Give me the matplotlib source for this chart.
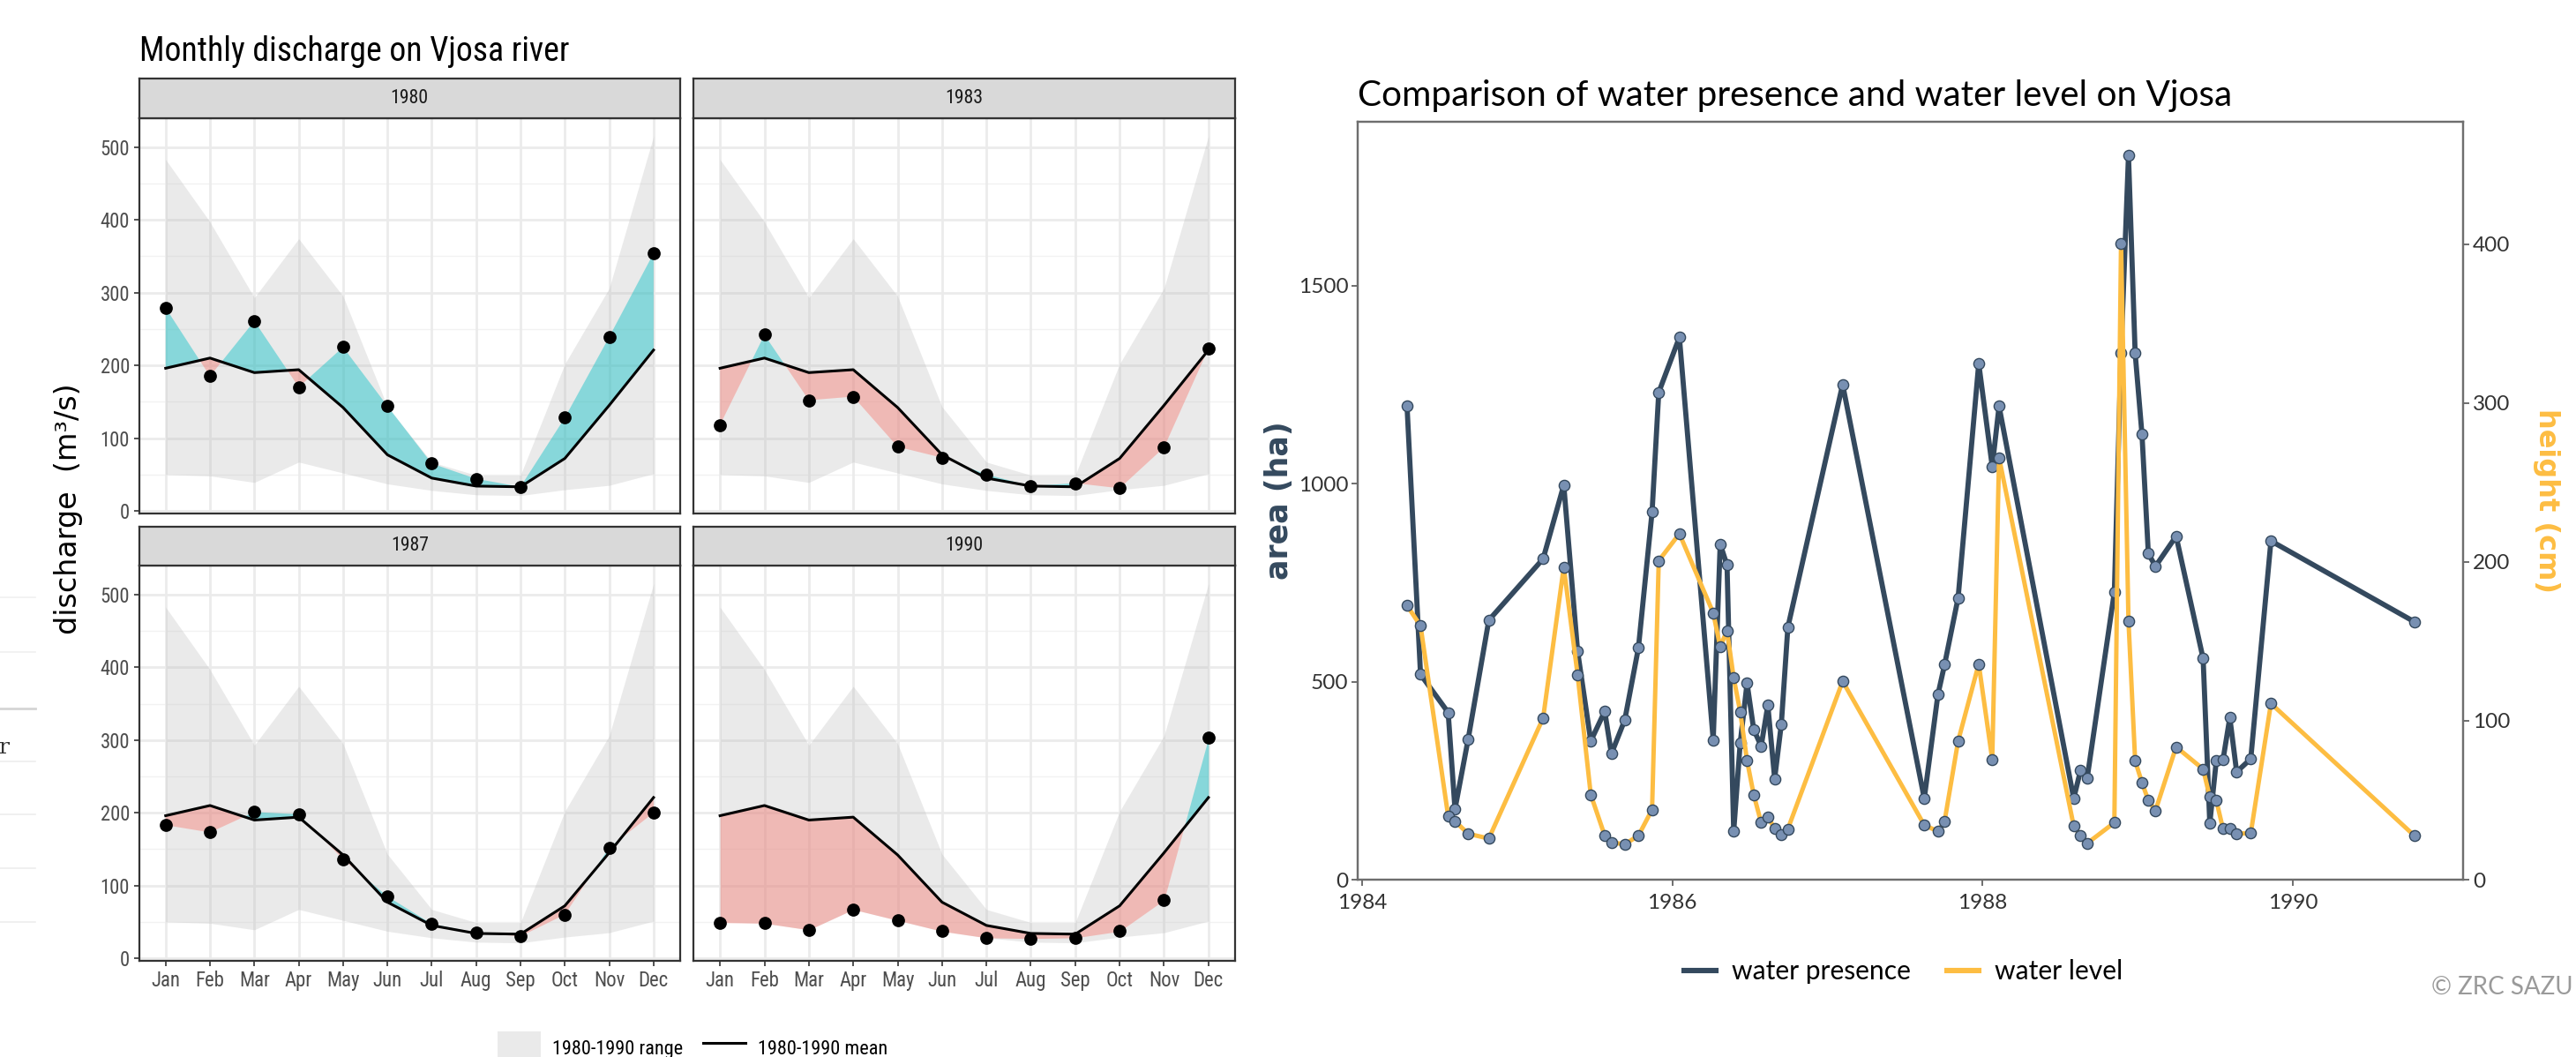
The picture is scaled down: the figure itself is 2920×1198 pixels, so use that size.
import numpy as np
import matplotlib
matplotlib.use('Agg')
import matplotlib.pyplot as plt
from matplotlib import font_manager
from matplotlib.lines import Line2D
from matplotlib.patches import Patch

# ---------------- data: monthly discharge (left) ----------------
months = ['Jan', 'Feb', 'Mar', 'Apr', 'May', 'Jun', 'Jul', 'Aug', 'Sep', 'Oct', 'Nov', 'Dec']
mean_1980_1990 = [196, 210, 190, 194, 142, 77, 45, 34, 33, 72, 145, 221]
range_low = [50, 48, 39, 67, 52, 37, 28, 22, 21, 29, 35, 51]
range_high = [483, 397, 293, 374, 295, 143, 67, 49, 49, 202, 306, 515]
facet_years = ['1980', '1983', '1987', '1990']
q_1980 = [279, 185, 261, 170, 225, 144, 65, 44, 33, 128, 239, 354]
q_1983 = [118, 242, 152, 157, 88, 73, 50, 34, 38, 31, 87, 223]
q_1987 = [183, 173, 201, 198, 136, 85, 47, 35, 30, 60, 152, 200]
q_1990 = [49, 48, 39, 67, 52, 37, 28, 27, 28, 37, 80, 303]

# ---------------- data: water presence / level (right) ----------------
dates = [1984.291, 1984.378, 1984.556, 1984.600, 1984.685, 1984.818,
         1985.168, 1985.301, 1985.390, 1985.475, 1985.565, 1985.608, 1985.694, 1985.782, 1985.870, 1985.913,
         1986.046, 1986.264, 1986.309, 1986.353, 1986.396, 1986.438, 1986.482, 1986.525, 1986.573, 1986.616,
         1986.660, 1986.703, 1986.745,
         1987.098, 1987.624, 1987.712, 1987.755, 1987.842, 1987.975,
         1988.062, 1988.106, 1988.587, 1988.631, 1988.674, 1988.849, 1988.892, 1988.940, 1988.983,
         1989.027, 1989.068, 1989.114, 1989.247, 1989.421, 1989.464, 1989.506, 1989.549, 1989.593, 1989.637,
         1989.728, 1989.858, 1990.782]
water_presence_ha = [1195, 518, 422, 178, 355, 655,
                     810, 996, 577, 350, 425, 318, 403, 585, 928, 1230,
                     1369, 353, 847, 794, 122, 345, 496, 379, 337, 440, 255, 393, 637,
                     1250, 205, 467, 543, 711, 1303,
                     1043, 1195, 205, 276, 257, 726, 1329, 1828, 1329,
                     1124, 823, 791, 867, 558, 142, 301, 302, 409, 272, 305, 855, 651]
water_level_cm = [172.6, 159.8, 40, 36.8, 28.9, 25.9,
                  101.8, 196.8, 129.1, 53.5, 27.7, 23.4, 22.3, 27.7, 44.1, 200.8,
                  217.8, 168, 146.7, 156.7, 127, 105.7, 75, 53.5, 35.9, 39.3, 32.3, 28.3, 31.9,
                  124.9, 34.4, 30.4, 36.8, 87.2, 135.8,
                  75.7, 265.7, 33.8, 27.7, 22.9, 35.9, 400.8, 162.8, 74.8,
                  61.1, 49.9, 43.5, 83.6, 69.6, 52, 49.9, 32, 32, 29, 29.2, 110.9, 27.7]
area_ticks = [0, 500, 1000, 1500]
height_ticks = [0, 100, 200, 300, 400]
year_ticks = [1984, 1986, 1988, 1990]

# ---------------- fonts ----------------
avail = {f.name for f in font_manager.fontManager.ttflist}
COND = next((f for f in ['Roboto Condensed', 'Liberation Sans Narrow', 'Open Sans Condensed']
             if f in avail), 'Roboto')
GEO = 'Lato' if 'Lato' in avail else 'DejaVu Sans'

W, H = 2920, 1198
fig = plt.figure(figsize=(W / 200, H / 200), dpi=200)
fig.patch.set_facecolor('white')


def px_axes(x0, y0, x1, y1, **kw):
    return fig.add_axes([x0 / W, 1 - y1 / H, (x1 - x0) / W, (y1 - y0) / H], **kw)


# ================= LEFT: faceted monthly discharge =================
obs = {'1980': q_1980, '1983': q_1983, '1987': q_1987, '1990': q_1990}
xs = np.arange(1, 13)
panels = {
    '1980': (157.6, 134, 771, 582, 89),
    '1983': (786, 134, 1400, 582, 89),
    '1987': (157.6, 641.4, 771, 1089, 596.6),
    '1990': (786, 641.4, 1400, 1089, 596.6),
}
GRID = '#EBEBEB'
for i, yr in enumerate(facet_years):
    x0, y0, x1, y1, sy = panels[yr]
    ax = px_axes(x0, y0, x1, y1)
    ax.set_xlim(0.4, 12.6)
    ax.set_ylim(-3.7, 539.7)
    for v in [50, 150, 250, 350, 450]:
        ax.axhline(v, color='#F2F2F2', lw=0.5, zorder=0)
    for v in range(0, 501, 100):
        ax.axhline(v, color=GRID, lw=1.0, zorder=0)
    for m in xs:
        ax.axvline(m, color=GRID, lw=1.0, zorder=0)
    ax.fill_between(xs, range_low, range_high, color='#BBBBBB', alpha=0.3, lw=0, zorder=1)
    o = np.array(obs[yr], float)
    mu = np.array(mean_1980_1990, float)
    ax.fill_between(xs, o, mu, where=o >= mu, interpolate=True, color='#00BFC4', alpha=0.42, lw=0, zorder=2)
    ax.fill_between(xs, o, mu, where=o <= mu, interpolate=True, color='#F8766D', alpha=0.42, lw=0, zorder=2)
    ax.plot(xs, mu, color='black', lw=1.1, zorder=3)
    ax.plot(xs, o, 'o', color='black', ms=4.3, zorder=4)
    for s in ax.spines.values():
        s.set_color('#333333')
        s.set_linewidth(0.8)
    ax.set_yticks(range(0, 501, 100))
    ax.set_xticks(xs)
    ax.tick_params(length=2.2, width=0.6, color='#333333', labelsize=8.2, labelcolor='#4D4D4D', pad=1.6)
    if i % 2 == 0:
        ax.set_yticklabels([str(v) for v in range(0, 501, 100)], fontfamily=COND)
    else:
        ax.tick_params(axis='y', left=False, labelleft=False)
    if i >= 2:
        ax.set_xticklabels(months, fontfamily=COND)
    else:
        ax.tick_params(axis='x', bottom=False, labelbottom=False)
    # strip
    st = px_axes(x0, sy, x1, y0)
    st.set_facecolor('#D9D9D9')
    st.set_xticks([])
    st.set_yticks([])
    for s in st.spines.values():
        s.set_color('#333333')
        s.set_linewidth(0.8)
    st.text(0.5, 0.5, yr, ha='center', va='center', fontsize=7.9, color='#1A1A1A',
            fontfamily=COND, transform=st.transAxes)

fig.text(158 / W, 1 - 69 / H, 'Monthly discharge on Vjosa river', fontsize=13.6,
         fontfamily=COND, color='black', ha='left', va='baseline')
fig.text(77 / W, 1 - 577 / H, 'discharge  (m³/s)', rotation=90, ha='center', va='center',
         fontsize=12, fontfamily='DejaVu Sans', color='black')

fig.legend(handles=[Patch(facecolor='#BBBBBB', alpha=0.3, edgecolor='none', label='1980-1990 range'),
                    Line2D([], [], color='black', lw=1.1, label='1980-1990 mean')],
           loc='center', bbox_to_anchor=(785 / W, 1 - 1188 / H), ncol=2, frameon=False,
           prop={'family': COND, 'size': 8}, handlelength=2.2, handleheight=2.2,
           handletextpad=0.6, columnspacing=1.0, borderpad=0)

# faint cropped table remnants on the far left
for yy, c, lw in [(677, '#F0F0F0', 0.6), (739, '#F0F0F0', 0.6), (803, '#D5D5D5', 1.0), (863, '#EEEEEE', 0.6),
                  (923, '#EEEEEE', 0.6), (984, '#EEEEEE', 0.6), (1045, '#EEEEEE', 0.6)]:
    fig.add_artist(Line2D([0, 40 / W], [1 - yy / H] * 2, color=c, lw=lw))
fig.text(-2 / W, 1 - 847 / H, 'r', fontsize=9, fontfamily='DejaVu Serif', color='#333333',
         ha='left', va='center')

# ================= RIGHT: water presence vs level =================
BLUE = '#34495E'
YEL = '#FDBD42'
axr = px_axes(1539, 137.8, 2792.5, 997)
axr.set_xlim(1983.973, 1991.099)
axr.set_ylim(0, 1913.6)
axr.plot(dates, water_presence_ha, color=BLUE, lw=2.1, solid_joinstyle='round', zorder=2)
axr.plot(dates, water_presence_ha, 'o', ms=4.4, mfc='#7890B2', mec=BLUE, mew=0.5, zorder=3)
axh = axr.twinx()
axh.set_ylim(0, 477.3)
axh.plot(dates, water_level_cm, color=YEL, lw=1.8, solid_joinstyle='round', zorder=2)
axh.plot(dates, water_level_cm, 'o', ms=4.4, mfc='#7890B2', mec=BLUE, mew=0.5, zorder=3)

for a in (axr, axh):
    for s in a.spines.values():
        s.set_color('#6E6E6E')
        s.set_linewidth(0.8)
    a.tick_params(length=2.6, width=0.6, color='#555555', labelsize=8.8, labelcolor='#333333', pad=1.2)
axr.set_xticks(year_ticks)
axr.set_xticklabels([str(v) for v in year_ticks], fontfamily=GEO)
axr.set_yticks(area_ticks)
axr.set_yticklabels([str(v) for v in area_ticks], fontfamily=GEO)
axh.set_yticks(height_ticks)
axh.set_yticklabels([str(v) for v in height_ticks], fontfamily=GEO)
axr.tick_params(axis='x', pad=3)

axr.set_ylabel('area (ha)', color=BLUE, fontsize=12.5, fontweight='bold', fontfamily='DejaVu Sans')
axr.yaxis.set_label_coords(-0.071, 0.5)
axr.yaxis.label.set_verticalalignment('center')
axh.set_ylabel('height (cm)', color=YEL, fontsize=11.5, fontweight='bold', fontfamily='DejaVu Sans',
               rotation=270)
axh.yaxis.set_label_coords(1.0746, 0.5)
axh.yaxis.label.set_verticalalignment('center')

fig.text(1539 / W, 1 - 120 / H, 'Comparison of water presence and water level on Vjosa',
         fontsize=14.6, fontfamily=GEO, color='black', ha='left', va='baseline')

fig.legend(handles=[Line2D([], [], color=BLUE, lw=2.2, label='water presence'),
                    Line2D([], [], color=YEL, lw=2.2, label='water level')],
           loc='center', bbox_to_anchor=(2157.5 / W, 1 - 1101 / H), ncol=2, frameon=False,
           prop={'family': GEO, 'size': 10.8}, handlelength=1.2, handletextpad=0.6,
           columnspacing=1.35, borderpad=0)

fig.text(2917 / W, 1 - 1119 / H, '© ZRC SAZU', ha='right', va='center', fontsize=10,
         fontfamily=GEO, color='#9A9A9A')

fig.savefig('out.png', dpi=200, facecolor='white')
